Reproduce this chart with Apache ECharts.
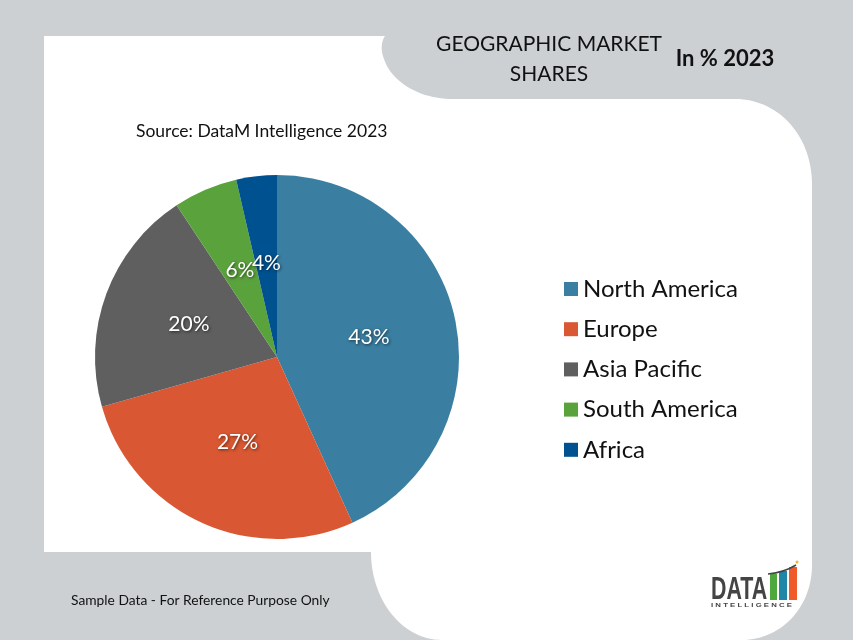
<!DOCTYPE html>
<html>
<head>
<meta charset="utf-8">
<title>Geographic Market Shares</title>
<style>
html, body { margin: 0; padding: 0; background: #ccd0d3; }
#main { width: 853px; height: 640px; }
</style>
<script src="https://cdn.jsdelivr.net/npm/echarts@6/dist/echarts.min.js"></script>
</head>
<body>
<div id="main"></div>
<script>
var regions = ['North America', 'Europe', 'Asia Pacific', 'South America', 'Africa'];
var shares = [43.2, 27.4, 20.1, 5.7, 3.6];
var colors = ['#3a7ea1', '#d95732', '#5f5f5f', '#5aa23c', '#00518f'];

var pieData = [];
for (var i = 0; i < regions.length; i++) {
    pieData.push({ name: regions[i], value: shares[i] });
}

// outline of the white page shape, straight runs and bezier corners
var pageOutline = [
    [44, 36], [385, 36],
    [[381, 42], [381, 50], [383, 56]],
    [[390, 82], [420, 99], [452, 99]],
    [735, 99],
    [[778, 99], [812, 135], [812, 185]],
    [812, 565],
    [[812, 608], [780, 640], [742, 640]],
    [442, 640],
    [[402, 640], [371, 600], [371, 552]],
    [44, 552]
];

function outlinePoints(outline) {
    var pts = [];
    for (var i = 0; i < outline.length; i++) {
        var seg = outline[i];
        if (typeof seg[0] == 'number') {
            pts.push(seg);
            continue;
        }
        var p0 = pts[pts.length - 1];
        for (var t = 1; t <= 30; t++) {
            var u = t / 30, v = 1 - u;
            pts.push([
                v * v * v * p0[0] + 3 * v * v * u * seg[0][0] + 3 * v * u * u * seg[1][0] + u * u * u * seg[2][0],
                v * v * v * p0[1] + 3 * v * v * u * seg[0][1] + 3 * v * u * u * seg[1][1] + u * u * u * seg[2][1]
            ]);
        }
    }
    return pts;
}

var chart = echarts.init(document.getElementById('main'));
chart.setOption({
    backgroundColor: '#ccd0d3',
    animation: false,
    color: colors,
    title: [{
        text: 'GEOGRAPHIC MARKET\nSHARES',
        left: 544,
        top: 24,
        textAlign: 'center',
        textStyle: { fontFamily: 'Lato', fontWeight: 'normal', fontSize: 21, lineHeight: 30, color: '#111' }
    }, {
        text: 'In % 2023',
        left: 720,
        top: 43,
        textAlign: 'center',
        textStyle: { fontFamily: 'Lato', fontWeight: 'bold', fontSize: 22, color: '#111' }
    }, {
        text: 'Source: DataM Intelligence 2023',
        left: 131,
        top: 117,
        textStyle: { fontFamily: 'Lato', fontWeight: 'normal', fontSize: 17.5, color: '#111' }
    }, {
        text: 'Sample Data - For Reference Purpose Only',
        left: 66,
        top: 589,
        textStyle: { fontFamily: 'Lato', fontWeight: 'normal', fontSize: 13.8, color: '#111' }
    }],
    legend: {
        orient: 'vertical',
        left: 559,
        top: 270,
        itemWidth: 14,
        itemHeight: 14,
        itemGap: 12.2,
        icon: 'rect',
        selectedMode: false,
        data: regions,
        textStyle: { fontFamily: 'Lato', fontSize: 24, color: '#111', lineHeight: 28 }
    },
    series: [{
        type: 'pie',
        center: [277, 357],
        radius: [0, 182],
        startAngle: 90,
        clockwise: true,
        silent: true,
        avoidLabelOverlap: false,
        labelLayout: { hideOverlap: false },
        data: pieData,
        label: {
            position: 'inside',
            formatter: function (params) {
                return Math.round(params.value) + '%';
            },
            fontFamily: 'Lato',
            fontSize: 21,
            color: '#fff',
            textShadowColor: 'rgba(0,0,0,0.6)',
            textShadowBlur: 3,
            textShadowOffsetX: 1,
            textShadowOffsetY: 1
        },
        labelLine: { show: false }
    }],
    graphic: [{
        type: 'polygon',
        z: -10,
        shape: { points: outlinePoints(pageOutline) },
        style: { fill: '#fff' }
    }, {
        type: 'text', x: 711, y: 575, z: 5, scaleX: 0.69,
        style: { text: 'DATA', fontFamily: 'Liberation Sans', fontWeight: 'bold', fontSize: 31, fill: '#444' }
    }, {
        type: 'text', x: 711, y: 602, z: 5, scaleX: 1.3,
        style: { text: 'I N T E L L I G E N C E', fontFamily: 'Liberation Sans', fontWeight: 'bold', fontSize: 6, fill: '#444' }
    }, {
        type: 'rect', z: 5, shape: { x: 770, y: 574, width: 7, height: 26 }, style: { fill: '#4fa83d' }
    }, {
        type: 'rect', z: 5, shape: { x: 779, y: 571, width: 8, height: 29 }, style: { fill: '#1f86a8' }
    }, {
        type: 'rect', z: 5, shape: { x: 789, y: 567, width: 8, height: 33 }, style: { fill: '#ef5a28' }
    }, {
        type: 'bezierCurve', z: 5,
        shape: { x1: 768, y1: 574, cpx1: 778, cpy1: 573, cpx2: 788, cpy2: 570, x2: 796, y2: 565 },
        style: { fill: 'none', stroke: '#444', lineWidth: 1.5 }
    }, {
        type: 'circle', z: 5, shape: { cx: 797, cy: 562, r: 1.5 }, style: { fill: '#f2b632' }
    }]
});
</script>
</body>
</html>
